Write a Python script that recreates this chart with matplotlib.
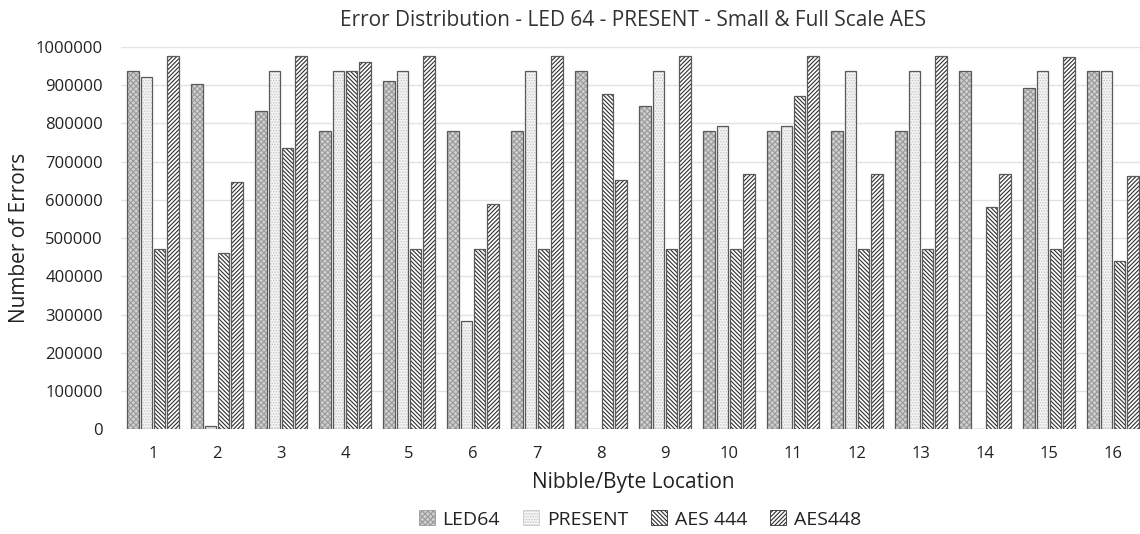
import numpy as np
import matplotlib
matplotlib.use("Agg")
import matplotlib.pyplot as plt
from matplotlib.patches import Patch

plt.rcParams['font.family'] = ['Open Sans', 'DejaVu Sans']
plt.rcParams['hatch.linewidth'] = 0.8

# data
locations = [str(i) for i in range(1, 17)]
led64 = [937000, 902000, 832000, 781000, 910000, 781000, 781000, 937000,
         844000, 781000, 781000, 781000, 781000, 937000, 893000, 937000]
present = [921000, 10000, 937000, 937000, 937000, 282000, 937000, 0,
           937000, 794000, 794000, 937000, 937000, 0, 937000, 937000]
aes444 = [471000, 462000, 735000, 937000, 471000, 471000, 471000, 876000,
          471000, 471000, 870000, 471000, 471000, 581000, 471000, 440000]
aes448 = [976000, 647000, 976000, 959000, 976000, 589000, 976000, 651000,
          976000, 667000, 976000, 667000, 976000, 667000, 972000, 663000]

series = [
    # name, values, fill, hatch, hatch colour
    ('LED64', led64, '#d0d0d0', 'xxxxxx', '#9a9a9a'),
    ('PRESENT', present, '#f5f5f5', '......', '#c8c8c8'),
    ('AES 444', aes444, 'white', '\\\\\\\\\\\\\\\\', '#2e2e2e'),
    ('AES448', aes448, 'white', '////////', '#2e2e2e'),
]

fig = plt.figure(figsize=(11.4, 5.34), dpi=100)
ax = fig.add_axes([121 / 1140, 0.196, 1024 / 1140, 0.7165])

x = np.arange(1, len(locations) + 1)
w = 0.18
step = 0.21
handles = []
for i, (name, vals, fc, hatch, hc) in enumerate(series):
    pos = x + (i - 1.5) * step
    # hatch layer, then outline on top
    ax.bar(pos, vals, w, color=fc, hatch=hatch, edgecolor=hc, linewidth=0, zorder=2)
    ax.bar(pos, vals, w, fill=False, edgecolor='#5a5a5a', linewidth=0.9, zorder=3)
    handles.append(Patch(facecolor=fc, hatch=hatch, edgecolor=hc, linewidth=0.6, label=name))

ax.set_xlim(0.5, 16.5)
ax.set_ylim(0, 1000000)
ax.set_yticks(np.arange(0, 1000001, 100000))
ax.set_yticklabels([str(v) for v in range(0, 1000001, 100000)])
ax.set_xticks(x)
ax.set_xticklabels(locations)
ax.tick_params(length=0, labelsize=12, colors='#222222')
ax.tick_params(axis='y', pad=13)
ax.tick_params(axis='x', pad=12)
ax.grid(axis='y', color='#e2e2e2', linewidth=1, zorder=0)
ax.set_axisbelow(True)
for s in ax.spines.values():
    s.set_visible(False)

ax.set_title('Error Distribution - LED 64 - PRESENT - Small & Full Scale AES',
             fontsize=15, color='#333333', pad=15)
ax.set_ylabel('Number of Errors', fontsize=15, color='#222222', labelpad=4)
ax.set_xlabel('Nibble/Byte Location', fontsize=15, color='#222222', labelpad=7)

fig.legend(handles=handles, loc='center', bbox_to_anchor=(0.5615, 0.027), ncol=4,
           frameon=False, fontsize=14, handlelength=0.8, handleheight=0.8,
           handletextpad=0.4, columnspacing=1.2, labelcolor='#222222')

plt.savefig('out.png', dpi=100)
